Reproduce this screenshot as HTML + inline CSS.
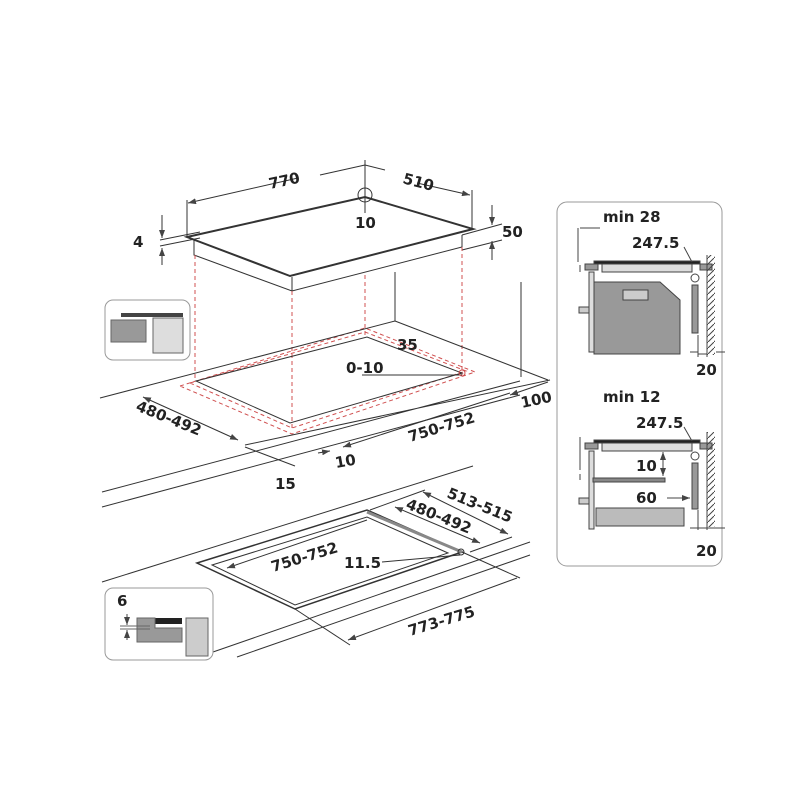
<!DOCTYPE html>
<html><head><meta charset="utf-8"><style>
html,body{margin:0;padding:0;background:#fff}
svg{display:block}
text{font-family:"DejaVu Sans","Liberation Sans",sans-serif;font-weight:bold;fill:#222}
</style></head><body>
<svg width="800" height="800" viewBox="0 0 800 800" xmlns="http://www.w3.org/2000/svg">
<defs>
<marker id="a" markerWidth="8" markerHeight="6" refX="8" refY="3" orient="auto-start-reverse" markerUnits="userSpaceOnUse"><path d="M0,0L8,3L0,6z" fill="#444"/></marker>
<pattern id="h" width="6" height="6" patternUnits="userSpaceOnUse"><path d="M0,6L6,0" stroke="#444" stroke-width="1"/></pattern>
</defs>
<g stroke="#333" fill="none" stroke-width="1">
<!-- hob -->
<path d="M187,237L365,197L473,229L290,276Z" stroke-width="2" fill="#fff"/>
<path d="M194,240V255L292,291L462,247V235M292,277V291"/>
<!-- dims top -->
<line x1="187" y1="200" x2="187" y2="237"/><line x1="472" y1="190" x2="472" y2="229"/>
<line x1="365" y1="160" x2="365" y2="213"/>
<circle cx="365" cy="195" r="7"/>
<path d="M188,203L298,178M320,175L365,165" marker-start="url(#a)"/>
<path d="M365,165L385,170M417,183L470,195" marker-end="url(#a)"/>
<path d="M160,240L200,232M160,246L200,238"/>
<path d="M162,215V238" marker-end="url(#a)"/><path d="M162,265V248" marker-end="url(#a)"/>
<path d="M462,235L502,224M462,250L502,240"/>
<path d="M492,205V225" marker-end="url(#a)"/><path d="M492,260V241" marker-end="url(#a)"/>
<!-- red dashed -->
<g stroke="#d05050" stroke-dasharray="4,3">
<path d="M195,255V380M292,291V428M365,275V335M462,247V375"/>
<path d="M180,386L365,328L475,372L292,434Z"/>
<path d="M190,383L365,332L466,371L292,428Z"/>
</g>
<!-- countertop 1 -->
<path d="M100,398L395,321V272M395,321L548,380M521,282V377"/>
<path d="M196,381L367,337L462,373L290,423Z"/>
<path d="M245,445L550,380M102,492L520,381M102,507L520,395M102,582L473,466"/>
<path d="M143,397L238,440" marker-start="url(#a)" marker-end="url(#a)"/>
<path d="M245,447L295,466"/>
<path d="M343,447L510,393" marker-start="url(#a)"/>
<path d="M510,395L548,382" marker-start="url(#a)"/>
<path d="M318,453L330,451" marker-end="url(#a)"/>
<path d="M362,375L462,375"/>
<!-- countertop 2 -->
<path d="M213,652L530,542M237,657L530,555"/>
<path d="M197,563L367,510L462,552L295,609Z" stroke-width="1.5"/>
<path d="M212,565L367,517L448,553L295,605Z"/>
<path d="M367,512L462,552" stroke="#888" stroke-width="3"/>
<path d="M227,568L367,520" marker-start="url(#a)"/>
<path d="M395,507L480,543" marker-start="url(#a)" marker-end="url(#a)"/>
<path d="M423,492L508,534" marker-start="url(#a)" marker-end="url(#a)"/>
<path d="M370,510L425,490M470,552L512,537M462,552L520,578M295,609L350,645"/>
<path d="M348,640L517,578" marker-start="url(#a)"/>
<path d="M382,562L460,555"/>
<circle cx="461" cy="552" r="3"/>
<circle cx="462" cy="373" r="3" stroke="#d05050"/>
</g>
<!-- insets -->
<rect x="105" y="300" width="85" height="60" rx="8" fill="#fff" stroke="#999"/>
<rect x="121" y="313" width="62" height="4" fill="#444"/>
<rect x="111" y="320" width="35" height="22" fill="#999" stroke="#666"/>
<rect x="153" y="318" width="30" height="35" fill="#ddd" stroke="#666"/>
<rect x="105" y="588" width="108" height="72" rx="8" fill="#fff" stroke="#999"/>
<rect x="137" y="618" width="45" height="6" fill="#222"/>
<path d="M137,618H155V628H182V642H137Z" fill="#999" stroke="#666"/>
<rect x="186" y="618" width="22" height="38" fill="#ccc" stroke="#666"/>
<path d="M120,626H150M120,629H150" stroke="#666"/>
<path d="M127,614V625" stroke="#444" marker-end="url(#a)"/>
<path d="M127,640V630" stroke="#444" marker-end="url(#a)"/>
<!-- right panel -->
<rect x="557" y="202" width="165" height="364" rx="10" fill="#fff" stroke="#999"/>
<g stroke="#444" fill="none">
<path d="M580,228H600M578,228V262M580,265V272" />
<rect x="594" y="261" width="106" height="3" fill="#222"/>
<rect x="585" y="264" width="13" height="6" fill="#999"/>
<rect x="700" y="264" width="12" height="6" fill="#999"/>
<rect x="602" y="264" width="90" height="8" fill="#ddd"/>
<rect x="589" y="272" width="5" height="80" fill="#ddd"/>
<path d="M594,282H660L680,300V354H594Z" fill="#999"/>
<rect x="623" y="290" width="25" height="10" fill="#ccc"/>
<rect x="579" y="307" width="10" height="6" fill="#ccc"/>
<circle cx="695" cy="278" r="4" fill="#fff"/>
<rect x="692" y="285" width="6" height="48" fill="#999"/>
<rect x="707" y="255" width="8" height="100" fill="url(#h)" stroke="none"/>
<path d="M707,255V357M698,335V357M698,354L707,354M690,352H698M716,352H725"/>
<path d="M684,247L692,262"/>
<path d="M580,437V470M580,474V480"/>
<rect x="594" y="440" width="106" height="3" fill="#222"/>
<rect x="585" y="443" width="13" height="6" fill="#999"/>
<rect x="700" y="443" width="12" height="6" fill="#999"/>
<rect x="602" y="443" width="90" height="8" fill="#ddd"/>
<rect x="589" y="451" width="5" height="78" fill="#ddd"/>
<rect x="593" y="478" width="72" height="4" fill="#888"/>
<rect x="596" y="508" width="88" height="18" fill="#bbb"/>
<rect x="579" y="498" width="10" height="6" fill="#ccc"/>
<circle cx="695" cy="456" r="4" fill="#fff"/>
<rect x="692" y="463" width="6" height="46" fill="#999"/>
<rect x="707" y="432" width="8" height="95" fill="url(#h)" stroke="none"/>
<path d="M707,432V530M698,510V530M690,528H725M684,427L692,441"/>
<path d="M663,452V476" marker-start="url(#a)" marker-end="url(#a)"/>
<path d="M667,498H690" marker-end="url(#a)"/>
</g>
<!-- texts -->
<text x="270" y="189" font-size="15" transform="rotate(-12 270 189)">770</text>
<text x="402" y="183" font-size="15" transform="rotate(15 402 183)">510</text>
<text x="355" y="228" font-size="15">10</text>
<text x="133" y="247" font-size="15">4</text>
<text x="502" y="237" font-size="15">50</text>
<text x="397" y="350" font-size="15">35</text>
<text x="346" y="373" font-size="15">0-10</text>
<text x="135" y="410" font-size="15" transform="rotate(22 135 410)">480-492</text>
<text x="410" y="442" font-size="15" transform="rotate(-17 410 442)">750-752</text>
<text x="522" y="408" font-size="15" transform="rotate(-12 522 408)">100</text>
<text x="336" y="468" font-size="15" transform="rotate(-10 336 468)">10</text>
<text x="275" y="489" font-size="15">15</text>
<text x="446" y="497" font-size="15" transform="rotate(22 446 497)">513-515</text>
<text x="405" y="508" font-size="15" transform="rotate(22 405 508)">480-492</text>
<text x="273" y="572" font-size="15" transform="rotate(-17 273 572)">750-752</text>
<text x="344" y="568" font-size="15">11.5</text>
<text x="410" y="636" font-size="15" transform="rotate(-17 410 636)">773-775</text>
<text x="117" y="606" font-size="15">6</text>
<text x="603" y="222" font-size="15">min 28</text>
<text x="632" y="248" font-size="15">247.5</text>
<text x="696" y="375" font-size="15">20</text>
<text x="603" y="402" font-size="15">min 12</text>
<text x="636" y="428" font-size="15">247.5</text>
<text x="636" y="471" font-size="15">10</text>
<text x="636" y="503" font-size="15">60</text>
<text x="696" y="556" font-size="15">20</text>
</svg>
</body></html>
